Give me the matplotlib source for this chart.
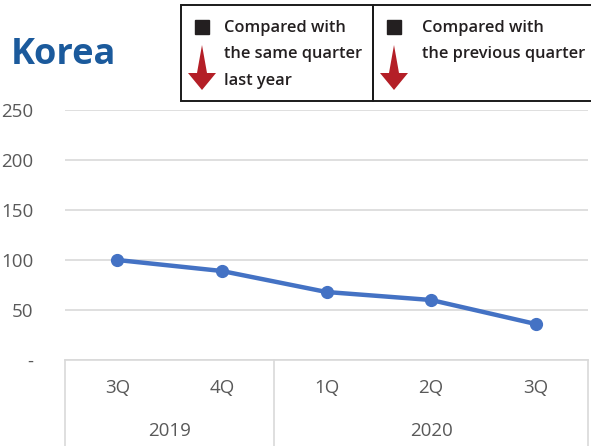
import matplotlib
matplotlib.use("Agg")
import matplotlib.pyplot as plt
import matplotlib.transforms as mtransforms
from matplotlib.patches import Rectangle, Polygon

# -- Datos --------------------------------------------------
trimestres = ['3Q', '4Q', '1Q', '2Q', '3Q']
anios      = ['2019', '2020']
anio_grupo = [2, 3]            # cantidad de trimestres por anio
valores    = [100, 89, 68, 60, 36]
yticks     = [0, 50, 100, 150, 200, 250]
ytick_lbl  = ['-', '50', '100', '150', '200', '250']

AZUL   = '#4472C4'
GRIS   = '#595959'
GRID   = '#D9D9D9'
ROJO   = '#B41F27'
TEXTO  = '#231F20'
FUENTE = 'Open Sans'

W, H = 591, 446
fig = plt.figure(figsize=(W / 100, H / 100), dpi=100)

# -- Grafico principal --------------------------------------
ax = fig.add_axes([65 / W, 1 - 360 / H, (588 - 65) / W, 250 / H])
x = list(range(len(valores)))
ax.plot(x, valores, color=AZUL, lw=3.2, marker='o', ms=8.5, zorder=3)
ax.set_xlim(-0.5, len(valores) - 0.5)
ax.set_ylim(0, 250)
ax.set_yticks(yticks)
ax.set_yticklabels(ytick_lbl, fontfamily=FUENTE, fontsize=13.5, color=GRIS)
ax.tick_params(axis='y', length=0, pad=23)
ax.set_xticks([])
for s in ['top', 'right', 'left']:
    ax.spines[s].set_visible(False)
ax.spines['bottom'].set_color(GRID)
ax.spines['bottom'].set_linewidth(1.2)
ax.grid(axis='y', color=GRID, lw=1.2)
ax.set_axisbelow(True)

# eje de categorias de dos niveles
tr = mtransforms.blended_transform_factory(ax.transData, ax.transAxes)
for i, q in enumerate(trimestres):
    ax.text(i, -0.11, q, transform=tr, ha='center', va='center',
            fontfamily=FUENTE, fontsize=13.5, color=GRIS)
inicio = 0
for anio, n in zip(anios, anio_grupo):
    centro = inicio + (n - 1) / 2
    ax.text(centro, -0.285, anio, transform=tr, ha='center', va='center',
            fontfamily=FUENTE, fontsize=13.5, color=GRIS)
    inicio += n
bordes = [-0.5]
acum = -0.5
for n in anio_grupo:
    acum += n
    bordes.append(acum)
for b in bordes:
    ax.plot([b, b], [0, -0.40], transform=tr, color=GRID, lw=1.2,
            clip_on=False)

# -- Capa superior (titulo y leyenda en pixeles) ------------
ov = fig.add_axes([0, 0, 1, 1], zorder=5)
ov.set_xlim(0, W)
ov.set_ylim(H, 0)
ov.axis('off')

ov.text(11, 55, 'Korea', fontfamily=FUENTE, fontweight='bold',
        fontsize=26, color='#1B5A9C', va='center', ha='left')


def flecha(cx):
    pts = [(cx, 45), (cx + 5, 73), (cx + 14, 73), (cx, 90),
           (cx - 14, 73), (cx - 5, 73)]
    return Polygon(pts, closed=True, color=ROJO, lw=0)


cajas = [
    (181, 373, 43, ['Compared with', 'the same quarter', 'last year']),
    (373, 600, 49, ['Compared with', 'the previous quarter']),
]
for x0, x1, dx, lineas in cajas:
    ov.add_patch(Rectangle((x0, 5), x1 - x0, 96, fill=False,
                           ec='#1A1A1A', lw=1.4, clip_on=False))
    ov.add_patch(Rectangle((x0 + 14, 20), 14, 14, color=TEXTO))
    ov.add_patch(flecha(x0 + 21))
    for k, t in enumerate(lineas):
        ov.text(x0 + dx, 28 + 26.5 * k, t, fontfamily=FUENTE,
                fontweight='semibold', fontsize=11.8, color=TEXTO,
                va='center', ha='left')

fig.savefig('out.png', dpi=100)
